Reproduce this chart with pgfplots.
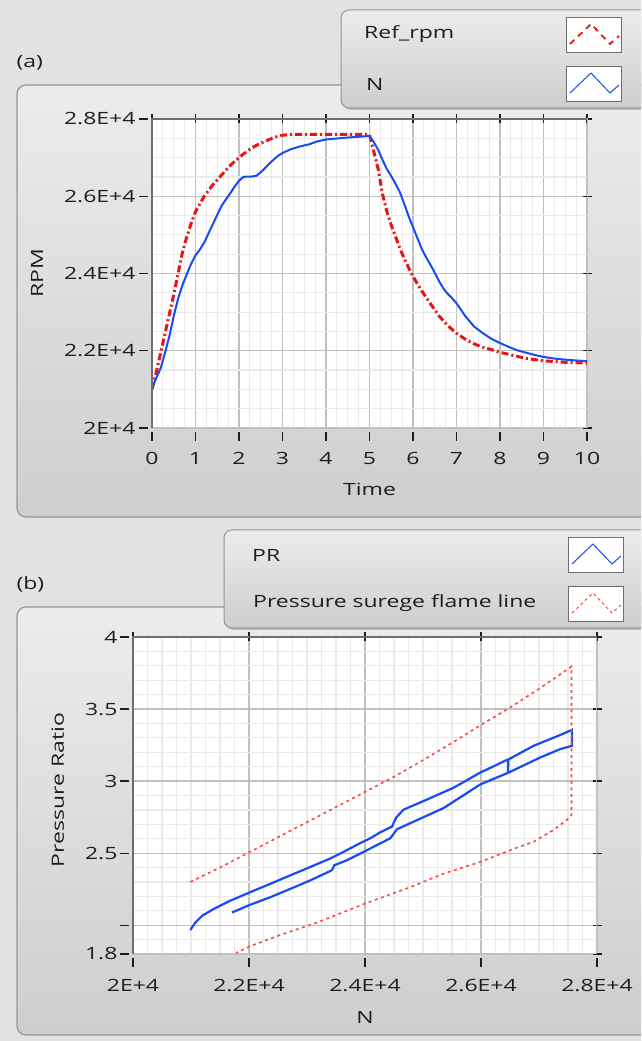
\documentclass[border=0pt]{standalone}
\usepackage{pgfplots}
\pgfplotsset{compat=1.18}
\usepackage{fontspec}
\setmainfont{Open Sans}[FakeStretch=1.36]
\definecolor{bg}{RGB}{226,226,226}
\definecolor{ptop}{RGB}{236,236,236}
\definecolor{pbot}{RGB}{206,206,206}
\definecolor{pedge}{RGB}{150,150,150}
\definecolor{lnblue}{RGB}{25,75,245}
\definecolor{lnred}{RGB}{235,20,20}
\definecolor{srgred}{RGB}{255,70,70}
\definecolor{txt}{RGB}{30,30,30}
\definecolor{gmaj}{RGB}{192,192,192}
\definecolor{gmin}{RGB}{234,234,234}
\definecolor{boxdark}{RGB}{110,110,110}
\newcommand{\lvfont}{\fontsize{16.9}{19.5}\selectfont}

\pgfplotsset{
  labview/.style={
    scale only axis,
    axis background/.style={fill=white},
    grid=both,
    major grid style={draw=gmaj, line width=1.2pt},
    minor grid style={draw=gmin, line width=1.2pt},
    axis line style={draw=gmaj, line width=1pt},
    tick align=outside, major tick length=9pt, minor tick length=0pt,
    tick style={draw=txt, line width=1.2pt},
    xtick style={yshift=-4pt}, ytick style={xshift=-4pt},
    ticklabel style={font=\lvfont, text=txt},
    label style={font=\lvfont, text=txt},
    /pgf/number format/assume math mode=true,
    scaled ticks=false,
    clip=true,
    after end axis/.code={
      \draw[boxdark, line width=1.6pt] (rel axis cs:0,0) -- (rel axis cs:0,1) -- (rel axis cs:1,1);
    },
  }
}

\begin{document}
\begin{tikzpicture}[x=1pt,y=1pt]
\useasboundingbox (0,0) rectangle (641,1041);
\clip (0,0) rectangle (641,1041);
\fill[bg] (0,0) rectangle (641,1041);

% ---------- panel (a) frame ----------
\draw[pedge, line width=1.2pt, rounded corners=9pt, top color=ptop, bottom color=pbot] (17,524) rectangle (660,956);
\node[font=\lvfont, text=txt, anchor=west] at (13,978) {(a)};

% ---------- panel (b) frame ----------
\draw[pedge, line width=1.2pt, rounded corners=9pt, top color=ptop, bottom color=pbot] (17,6) rectangle (660,434);
\node[font=\lvfont, text=txt, anchor=west] at (13,457) {(b)};

% ---------- axis (a) ----------
\begin{axis}[labview,
  at={(152pt,613pt)}, anchor=south west,
  width=435pt, height=309pt,
  xmin=0, xmax=10, ymin=20000, ymax=28000,
  xtick={0,1,...,10},
  xticklabels={0,1,2,3,4,5,6,7,8,9,10},
  ytick={20000,22000,24000,26000,28000},
  yticklabels={2E+4,2.2E+4,2.4E+4,2.6E+4,2.8E+4},
  minor xtick={0,0.25,...,10},
  minor ytick={20000,20500,...,28000},
  xticklabel style={yshift=-12pt},
  yticklabel style={xshift=-4pt},
  xlabel={Time}, ylabel={RPM},
  xlabel style={at={(axis description cs:0.5,-0.2)}, anchor=center},
  ylabel style={at={(axis description cs:-0.264,0.5)}, anchor=center},
]
\addplot[lnred, line width=3pt, dash pattern=on 7pt off 3pt on 2pt off 3pt] coordinates {
(0,21000) (0.1,21450) (0.2,21950) (0.3,22450) (0.4,22950) (0.5,23450) (0.6,24000)
(0.7,24550) (0.8,24950) (0.9,25300) (1.0,25600) (1.1,25800) (1.2,26000) (1.3,26150)
(1.4,26300) (1.6,26550) (1.8,26800) (2.0,27000) (2.2,27180) (2.4,27320) (2.6,27420)
(2.8,27520) (3.0,27580) (3.2,27600) (4.0,27600) (5.0,27600)
(5.1,27150) (5.2,26700) (5.3,26050) (5.4,25600) (5.5,25250) (5.6,24950) (5.7,24650)
(5.8,24380) (5.9,24150) (6.0,23920) (6.2,23550) (6.4,23220) (6.6,22900) (6.8,22650)
(7.0,22450) (7.2,22300) (7.4,22180) (7.6,22090) (7.8,22030) (8.0,21960) (8.3,21880)
(8.6,21800) (9.0,21740) (9.5,21700) (10,21680)
};
\addplot[lnblue, line width=2pt] coordinates {
(0,21030) (0.1,21300) (0.2,21550) (0.3,21950) (0.4,22380) (0.5,22900) (0.6,23350)
(0.7,23700) (0.8,23980) (0.9,24250) (1.0,24470) (1.1,24620) (1.2,24800) (1.3,25040)
(1.4,25280) (1.5,25520) (1.6,25750) (1.7,25920) (1.8,26080) (1.9,26250) (2.0,26400)
(2.1,26500) (2.2,26510) (2.3,26510) (2.4,26530) (2.5,26620) (2.6,26730) (2.7,26850)
(2.8,26950) (2.9,27050) (3.0,27120) (3.2,27220) (3.4,27290) (3.6,27340) (3.8,27420)
(4.0,27470) (4.5,27520) (5.0,27560)
(5.1,27400) (5.2,27200) (5.3,26940) (5.4,26700) (5.5,26520) (5.6,26320) (5.7,26100)
(5.8,25800) (5.9,25480) (6.0,25200) (6.1,24920) (6.2,24640) (6.3,24420) (6.4,24230)
(6.5,24020) (6.6,23800) (6.7,23610) (6.8,23470) (6.9,23360) (7.0,23230) (7.2,22900)
(7.4,22630) (7.6,22460) (7.8,22310) (8.0,22200) (8.2,22100) (8.4,22010) (8.6,21950)
(8.8,21890) (9.0,21840) (9.3,21790) (9.6,21760) (10,21730)
};
\end{axis}

% ---------- legend (a) ----------
\fill[rounded corners=8pt, gray!55] (343,931) rectangle (652,1029);
\draw[pedge, line width=1pt, rounded corners=8pt, top color=ptop, bottom color=pbot] (341,933) rectangle (650,1031);
\node[font=\lvfont, text=txt, anchor=west, inner sep=0pt] at (364,1007) {Ref\_rpm};
\node[font=\lvfont, text=txt, anchor=west, inner sep=0pt] at (366,957) {N};
\draw[boxdark, fill=white, line width=1pt] (566,988) rectangle (621,1023);
\draw[lnred, line width=1.8pt, dash pattern=on 6pt off 5pt] (570,997) -- (591,1017) -- (610,997) -- (619,1005);
\draw[boxdark, fill=white, line width=1pt] (566,939) rectangle (621,974);
\draw[lnblue, line width=1pt] (570,948) -- (591,968) -- (610,948) -- (619,956);

% ---------- axis (b) ----------
\begin{axis}[labview,
  at={(133pt,87pt)}, anchor=south west,
  width=464pt, height=317pt,
  xmin=20000, xmax=28000, ymin=1.8, ymax=4,
  xtick={20000,22000,24000,26000,28000},
  xticklabels={2E+4,2.2E+4,2.4E+4,2.6E+4,2.8E+4},
  ytick={1.8,2,2.5,3,3.5,4},
  yticklabels={1.8,,2.5,3,3.5,4},
  minor xtick={20000,20250,...,28000},
  minor ytick={1.9,2.1,2.2,2.3,2.4,2.6,2.7,2.8,2.9,3.1,3.2,3.3,3.4,3.6,3.7,3.8,3.9},
  xticklabel style={yshift=-13pt},
  yticklabel style={xshift=-3pt},
  xlabel={N}, ylabel={Pressure Ratio},
  xlabel style={at={(axis description cs:0.5,-0.199)}, anchor=center},
  ylabel style={at={(axis description cs:-0.162,0.517)}, anchor=center},
]
\addplot[lnblue, line width=2.2pt] coordinates {
(20988,1.967) (21074,2.018) (21190,2.065) (21390,2.112) (21678,2.170) (22022,2.229)
(22367,2.287) (22712,2.346) (23057,2.404) (23402,2.463) (23631,2.509) (23919,2.570)
(24091,2.603) (24264,2.645) (24466,2.684) (24500,2.715) (24540,2.748) (24666,2.802)
(25069,2.872) (25528,2.954) (25988,3.059) (26448,3.147) (26465,3.148) (26465,3.062)
(26472,3.150) (26907,3.245) (27367,3.320) (27569,3.356) (27569,3.245) (27367,3.222)
(27022,3.164) (26476,3.059) (25988,2.977) (25356,2.813) (24781,2.708) (24552,2.666)
(24436,2.603) (24148,2.544) (23919,2.497) (23690,2.451) (23471,2.416) (23435,2.385)
(23402,2.376) (23057,2.311) (22712,2.252) (22367,2.194) (22022,2.142) (21707,2.088)
};
\addplot[srgred, line width=1.6pt, dash pattern=on 3pt off 3.5pt] coordinates {
(20988,2.300) (21500,2.400) (22000,2.505) (22500,2.610) (23000,2.715) (23500,2.820)
(24000,2.925) (24500,3.030) (25000,3.145) (25500,3.265) (26000,3.390) (26500,3.510)
(27000,3.640) (27560,3.795) (27560,2.766) (27483,2.731) (27252,2.661) (26907,2.579)
(26505,2.521) (25988,2.439) (25356,2.358) (24781,2.264) (24005,2.151) (23172,2.018)
(22540,1.932) (22022,1.855) (21781,1.808)
};
\end{axis}

% ---------- legend (b) ----------
\fill[rounded corners=8pt, gray!55] (226,411) rectangle (652,509);
\draw[pedge, line width=1pt, rounded corners=8pt, top color=ptop, bottom color=pbot] (224,413) rectangle (650,511);
\node[font=\lvfont, text=txt, anchor=west, inner sep=0pt] at (252,486) {PR};
\node[font=\lvfont, text=txt, anchor=west, inner sep=0pt] at (253,438) {Pressure surege flame line};
\draw[boxdark, fill=white, line width=1pt] (568,468) rectangle (623,503);
\draw[lnblue, line width=1pt] (572,477) -- (593,497) -- (612,477) -- (621,485);
\draw[boxdark, fill=white, line width=1pt] (568,419) rectangle (623,454);
\draw[srgred, line width=1pt, dash pattern=on 3pt off 3pt] (572,428) -- (593,448) -- (612,428) -- (621,436);
\end{tikzpicture}
\end{document}
